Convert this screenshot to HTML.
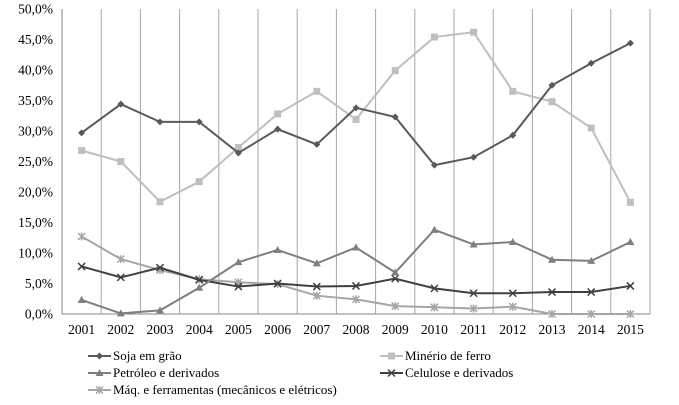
<!DOCTYPE html>
<html><head><meta charset="utf-8"><style>
body{margin:0;background:#fff;}
svg{display:block;}
text{font-family:"Liberation Serif",serif;}
</style></head><body>
<svg id="chart" width="679" height="405"></svg>
<script>
const categories=["2001","2002","2003","2004","2005","2006","2007","2008","2009","2010","2011","2012","2013","2014","2015"];
const soja=[29.7,34.4,31.5,31.5,26.4,30.3,27.8,33.8,32.3,24.4,25.7,29.3,37.5,41.1,44.4];
const minerio=[26.8,25.0,18.4,21.7,27.3,32.8,36.5,31.9,39.9,45.4,46.2,36.5,34.8,30.5,18.3];
const petroleo=[2.3,0.1,0.6,4.3,8.5,10.5,8.3,10.9,6.8,13.8,11.4,11.8,8.9,8.7,11.8];
const celulose=[7.8,6.0,7.6,5.6,4.5,5.0,4.5,4.6,5.8,4.2,3.4,3.4,3.6,3.6,4.6];
const maq=[12.7,9.0,7.2,5.7,5.2,4.9,3.0,2.4,1.3,1.1,0.9,1.2,0.0,0.0,0.0];
const yTicks=[0,5,10,15,20,25,30,35,40,45,50];
const seriesNames=["Soja em grão","Minério de ferro","Petróleo e derivados","Celulose e derivados","Máq. e ferramentas  (mecânicos e elétricos)"];

const NS="http://www.w3.org/2000/svg";
const svg=document.getElementById('chart');
const L=62,R=650,T=9,B=314;
const bw=(R-L)/categories.length;
const x=i=>L+bw*(i+0.5);
const y=v=>B-(v/50)*(B-T);
function mk(tag,attrs,parent){const e=document.createElementNS(NS,tag);for(const k in attrs)e.setAttribute(k,attrs[k]);(parent||svg).appendChild(e);return e;}

for(let i=0;i<=categories.length;i++){
  const g=mk('line',{x1:L+bw*i,x2:L+bw*i,y1:T,y2:B,stroke:i==0?'#868686':'#a6a6a6','stroke-width':1});
  
  
}
const xa=mk('line',{x1:L,x2:R,y1:B,y2:B,stroke:'#868686'});


yTicks.forEach(v=>{
  const t=mk('text',{x:53,y:y(v)+4.5,'text-anchor':'end','font-size':13.5,fill:'#000','font-family':'Liberation Serif, serif'});
  t.textContent=v.toFixed(1).replace('.',',')+'%';
  
  
});
categories.forEach((c,i)=>{
  const t=mk('text',{x:x(i),y:334,'text-anchor':'middle','font-size':13.5,fill:'#000','font-family':'Liberation Serif, serif'});
  t.textContent=c;
  
  
});

function marker(type,cx,cy,color,parent){
  if(type==='diamond') return mk('path',{d:`M${cx},${cy-3.5}L${cx+3.5},${cy}L${cx},${cy+3.5}L${cx-3.5},${cy}Z`,fill:color},parent);
  if(type==='square') return mk('rect',{x:cx-3.5,y:cy-3.5,width:7,height:7,fill:color},parent);
  if(type==='triangle') return mk('path',{d:`M${cx},${cy-4}L${cx+4},${cy+3}L${cx-4},${cy+3}Z`,fill:color},parent);
  if(type==='x') return mk('path',{d:`M${cx-3.5},${cy-3.5}L${cx+3.5},${cy+3.5}M${cx+3.5},${cy-3.5}L${cx-3.5},${cy+3.5}`,stroke:color,'stroke-width':1.5,fill:'none'},parent);
  return mk('path',{d:`M${cx-3.5},${cy-3.5}L${cx+3.5},${cy+3.5}M${cx+3.5},${cy-3.5}L${cx-3.5},${cy+3.5}M${cx},${cy-4}L${cx},${cy+4}`,stroke:color,'stroke-width':1.5,fill:'none'},parent);
}
const series=[
 {d:soja,c:'#595959',m:'diamond',n:'series-soja'},
 {d:minerio,c:'#bfbfbf',m:'square',n:'series-minerio'},
 {d:petroleo,c:'#7f7f7f',m:'triangle',n:'series-petroleo'},
 {d:celulose,c:'#404040',m:'x',n:'series-celulose'},
 {d:maq,c:'#a6a6a6',m:'star',n:'series-maquinas'}
];
const drawOrder=[4,3,2,1,0];
drawOrder.forEach(si=>{
  const s=series[si];
  const g=mk('g',{});
  
  
  const pl=mk('polyline',{points:s.d.map((v,i)=>x(i)+','+y(v)).join(' '),fill:'none',stroke:s.c,'stroke-width':2},g);
  
  
  s.d.forEach((v,i)=>{
    const p=marker(s.m,x(i),y(v),s.c,g);
    
    
  });
});
const legPos=[[88,356],[380,356],[88,373],[380,373],[88,390]];
series.forEach((s,i)=>{
  const [lx,ly]=legPos[i];
  const g=mk('g',{});
  
  
  mk('line',{x1:lx,x2:lx+23,y1:ly,y2:ly,stroke:s.c,'stroke-width':2},g);
  marker(s.m,lx+11.5,ly,s.c,g);
  const t=mk('text',{x:lx+25,y:ly+4,'font-size':13,fill:'#000','font-family':'Liberation Serif, serif'},g);
  t.setAttribute('xml:space','preserve');
  t.textContent=seriesNames[i];
});
</script>
</body></html>
